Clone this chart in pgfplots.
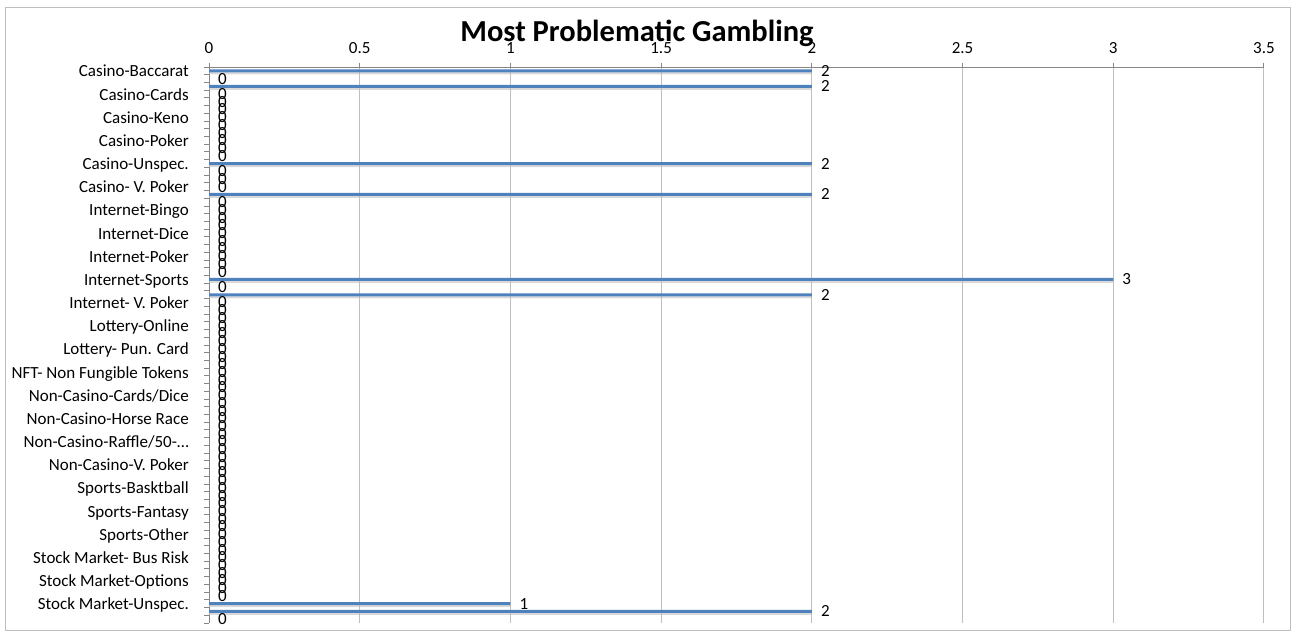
\documentclass[border=0pt]{standalone}
\usepackage{pgfplots}
\pgfplotsset{compat=1.18}
\usepackage{pgfplotstable}
\usepackage{fontspec}
\setmainfont{Carlito}

\definecolor{barblue}{HTML}{4F81BD}
\definecolor{axisgray}{HTML}{868686}
\definecolor{gridgray}{HTML}{BFBFBF}

% one row per category, top to bottom (only every 3rd name is shown)
\pgfplotstableread{
idx val
0 2
1 0
2 2
3 0
4 0
5 0
6 0
7 0
8 0
9 0
10 0
11 0
12 2
13 0
14 0
15 0
16 2
17 0
18 0
19 0
20 0
21 0
22 0
23 0
24 0
25 0
26 0
27 3
28 0
29 2
30 0
31 0
32 0
33 0
34 0
35 0
36 0
37 0
38 0
39 0
40 0
41 0
42 0
43 0
44 0
45 0
46 0
47 0
48 0
49 0
50 0
51 0
52 0
53 0
54 0
55 0
56 0
57 0
58 0
59 0
60 0
61 0
62 0
63 0
64 0
65 0
66 0
67 0
68 0
69 1
70 2
71 0
}\gambling

\begin{document}
\begin{tikzpicture}
\path[use as bounding box] (0,0) rectangle (1302bp,-633bp);
\draw[gridgray, line width=1bp] (5bp,-7bp) rectangle (1290bp,-630bp);
\begin{axis}[
    at={(209bp,-67bp)}, anchor=north west,
    scale only axis, width=1055bp, height=556bp,
    /pgf/number format/assume math mode=true,
    font=\fontsize{17bp}{20bp}\selectfont,
    xmin=0, xmax=3.5, ymin=-0.5, ymax=71.5,
    y dir=reverse,
    axis x line*=top, axis y line*=left,
    axis line style={axisgray, line width=1bp},
    tick align=outside,
    tick style={axisgray, line width=1bp},
    major tick length=4bp, minor tick length=5bp,
    xtick={0,0.5,...,3.5},
    xticklabel style={anchor=base, inner sep=0pt, yshift=10bp},
    xmajorgrids,
    grid style={gridgray, line width=1bp},
    ytick={0,3,...,69},
    major y tick style={draw=none},
    minor ytick={-0.5,0.5,...,71.5},
    yticklabels={Casino-Baccarat, Casino-Cards, Casino-Keno, Casino-Poker,
      Casino-Unspec., Casino- V. Poker, Internet-Bingo, Internet-Dice,
      Internet-Poker, Internet-Sports, Internet- V. Poker, Lottery-Online,
      Lottery- Pun. Card, NFT- Non Fungible Tokens, Non-Casino-Cards/Dice,
      Non-Casino-Horse Race, {Non-Casino-Raffle/50-…}, Non-Casino-V. Poker,
      Sports-Basktball, Sports-Fantasy, Sports-Other, Stock Market- Bus Risk,
      Stock Market-Options, Stock Market-Unspec.},
    yticklabel style={anchor=base east, inner sep=0pt, xshift=-16bp, yshift=-6bp},
    title={Most Problematic Gambling},
    title style={at={(0.4057,1.036)}, anchor=base, inner sep=0pt, yshift=0pt,
      font=\bfseries\fontsize{30.5bp}{34bp}\selectfont},
]
% soft shadow under the bars
\addplot[xbar, bar width=2bp, bar shift=-2.5bp, fill=black!25, draw=none, opacity=0.6]
  table[x=val, y=idx] {\gambling};
\addplot[xbar, bar width=3bp, bar shift=0pt, fill=barblue, draw=none,
    nodes near coords,
    nodes near coords style={anchor=west, inner sep=0pt, xshift=9bp, black,
      font=\fontsize{17bp}{17bp}\selectfont}]
  table[x=val, y=idx] {\gambling};
\end{axis}
\end{tikzpicture}
\end{document}
